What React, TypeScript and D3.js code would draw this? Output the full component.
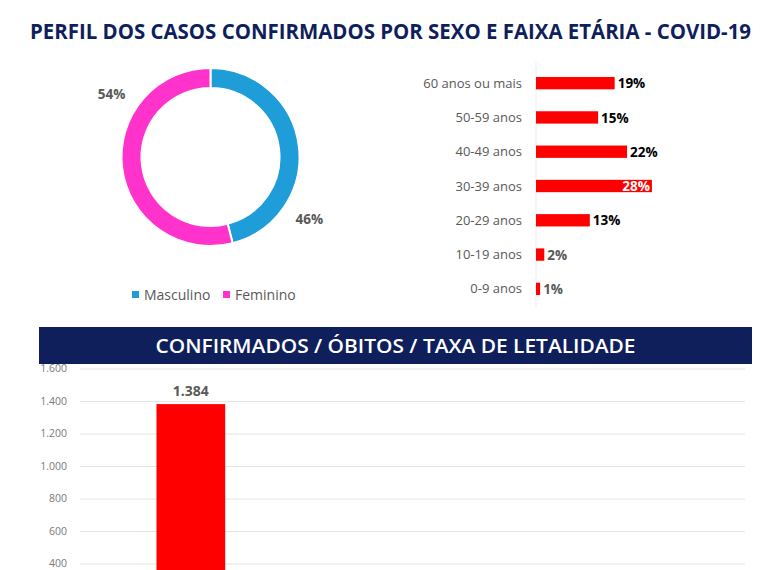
import React from "react";
import * as d3 from "d3";

const sexLabels = ["Masculino", "Feminino"];
const sexValues = [46, 54];
const sexColors = ["#1f9dd9", "#ff33cc"];

const ageCategories = ["60 anos ou mais", "50-59 anos", "40-49 anos", "30-39 anos", "20-29 anos", "10-19 anos", "0-9 anos"];
const ageValues = [19, 15, 22, 28, 13, 2, 1];

const mainCategories = ["Confirmados", "Óbitos", "Taxa de letalidade"];
const mainValues = [1384];
const yTicks = [400, 600, 800, 1000, 1200, 1400, 1600];

const W = 780, H = 570;
const NAVY = "#0f1f5c";
const GRAY = "#595959";
const FONT = "'Open Sans', 'Noto Sans', sans-serif";

const ptBR = d3.formatLocale({ decimal: ",", thousands: ".", grouping: [3], currency: ["R$", ""] });
const fmt = ptBR.format(",.0f");

export default function App() {
  // Donut
  const cx = 210.5, cy = 157, rOuter = 89, rInner = 69;
  const pie = d3.pie<number>().sort(null).value((d) => d)(sexValues);
  const arc = d3.arc<d3.PieArcDatum<number>>().innerRadius(rInner).outerRadius(rOuter);
  const labelOffset = 0.69, labelR = 117;

  // Age bars
  const yAge = d3.scaleBand<string>().domain(ageCategories).range([66, 306]).paddingInner(0.64).paddingOuter(0.32);
  const xAge = d3.scaleLinear().domain([0, 28.5]).range([536, 654]);

  // Bottom chart
  const yMain = d3.scaleLinear().domain([0, 1600]).range([629, 369]);
  const xMain = d3.scaleBand<string>().domain(mainCategories).range([80, 745]).paddingInner(0.69).paddingOuter(0.345);

  return (
    <svg width={W} height={H} style={{ position: "absolute", left: 0, top: 0, background: "#fff" }} fontFamily={FONT}>
      <rect x={0} y={0} width={W} height={H} fill="#fff" />
      <text x={30} y={39} fontSize={21} fontWeight={700} fill={NAVY} textLength={721} lengthAdjust="spacingAndGlyphs">
        PERFIL DOS CASOS CONFIRMADOS POR SEXO E FAIXA ETÁRIA - COVID-19
      </text>

      {/* Donut */}
      <g transform={`translate(${cx},${cy})`}>
        {pie.map((p, i) => (
          <path key={i} d={arc(p) || ""} fill={sexColors[i]} stroke="#fff" strokeWidth={2} />
        ))}
        {pie.map((p, i) => {
          const a = (p.startAngle + p.endAngle) / 2 + labelOffset;
          return (
            <text key={"l" + i} x={Math.sin(a) * labelR} y={-Math.cos(a) * labelR} dy="0.35em" textAnchor="middle"
              fontSize={13.5} fontWeight={700} fill={GRAY}>
              {sexValues[i]}%
            </text>
          );
        })}
      </g>
      {/* Legend */}
      {sexLabels.map((l, i) => {
        const lx = [132, 223][i];
        return (
          <g key={l}>
            <rect x={lx} y={291} width={7} height={7} fill={sexColors[i]} />
            <text x={lx + 12} y={300} fontSize={14} fill={GRAY}>{l}</text>
          </g>
        );
      })}

      {/* Age bars */}
      <line x1={xAge(0)} x2={xAge(0)} y1={62} y2={308} stroke="#ececec" strokeWidth={1} />
      {ageCategories.map((c, i) => {
        const y = yAge(c)!;
        const bw = yAge.bandwidth();
        const v = ageValues[i];
        const inside = v === d3.max(ageValues);
        const labColor = inside ? "#fff" : v < 5 ? GRAY : "#000";
        return (
          <g key={c}>
            <text x={522} y={y + bw / 2} dy="0.35em" textAnchor="end" fontSize={13} fill={GRAY}>{c}</text>
            <rect x={xAge(0)} y={y} width={xAge(v) - xAge(0)} height={bw} fill="#ff0000" />
            <text x={inside ? xAge(v) - 2 : xAge(v) + 3} y={y + bw / 2} dy="0.38em" textAnchor={inside ? "end" : "start"}
              fontSize={13.5} fontWeight={700} fill={labColor}>
              {v}%
            </text>
          </g>
        );
      })}

      {/* Banner */}
      <rect x={39} y={327} width={713} height={37} fill={NAVY} />
      <text x={395.5} y={346} dy="0.36em" textAnchor="middle" fontSize={20} fontWeight={600} fill="#fff"
        textLength={480} lengthAdjust="spacingAndGlyphs">
        CONFIRMADOS / ÓBITOS / TAXA DE LETALIDADE
      </text>

      {/* Bottom chart */}
      {yTicks.map((t) => (
        <g key={t}>
          <line x1={80} x2={745} y1={yMain(t)} y2={yMain(t)} stroke="#e4e4e4" strokeWidth={1} />
          <text x={67} y={yMain(t)} dy="0.33em" textAnchor="end" fontSize={10.5} fill="#7a7a7a">{fmt(t)}</text>
        </g>
      ))}
      {mainValues.map((v, i) => {
        const c = mainCategories[i];
        const x = xMain(c)!;
        const bw = xMain.bandwidth();
        return (
          <g key={c}>
            <rect x={x} y={yMain(v)} width={bw} height={yMain(0) - yMain(v)} fill="#ff0000" />
            <text x={x + bw / 2} y={yMain(v) - 13} dy="0.35em" textAnchor="middle" fontSize={14} fontWeight={700} fill={GRAY}>
              {fmt(v)}
            </text>
          </g>
        );
      })}
    </svg>
  );
}
